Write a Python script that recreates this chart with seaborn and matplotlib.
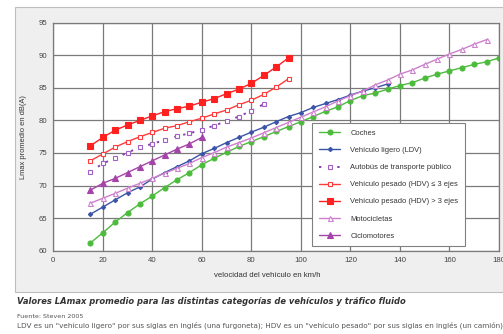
import matplotlib
matplotlib.use("Agg")
import matplotlib.pyplot as plt
import numpy as np
import pandas as pd
import seaborn as sns
from matplotlib.patches import Rectangle
from matplotlib.ticker import MultipleLocator

# Velocidades (km/h) y niveles LAmax (dB(A))
vel_coches = list(range(15, 185, 5))
coches = [61.2, 62.75, 64.4, 65.85, 67.2, 68.4, 69.7, 70.9, 72.0, 73.2, 74.2, 75.1,
          76.0, 76.75, 77.5, 78.3, 79.05, 79.8, 80.6, 81.4, 82.1, 83.05, 83.8, 84.2,
          84.8, 85.35, 85.8, 86.5, 87.1, 87.6, 88.1, 88.6, 89.0, 89.6]

vel_ldv = list(range(15, 140, 5))
ldv = [65.6, 66.7, 67.8, 68.9, 69.8, 71.0, 72.0, 72.9, 73.8, 74.9, 75.7, 76.6,
       77.4, 78.2, 78.95, 79.8, 80.6, 81.2, 82.0, 82.6, 83.2, 83.9, 84.5, 85.0, 85.6]

vel_bus = list(range(15, 90, 5))
bus = [72.1, 73.4, 74.2, 75.05, 75.9, 76.4, 77.0, 77.6, 78.0, 78.6, 79.2, 79.9,
       80.6, 81.5, 82.5]

vel_hdv = list(range(15, 100, 5))
hdv_menor3 = [73.8, 74.85, 75.9, 76.75, 77.5, 78.15, 78.8, 79.2, 79.8, 80.35, 81.0,
              81.6, 82.4, 83.1, 84.0, 85.1, 86.4]
hdv_mayor3 = [76.1, 77.4, 78.5, 79.3, 80.0, 80.7, 81.35, 81.8, 82.2, 82.8, 83.35,
              84.1, 84.8, 85.7, 86.9, 88.2, 89.6]

vel_moto = list(range(15, 180, 5))
motocicletas = [67.3, 68.05, 68.8, 69.6, 70.35, 71.1, 71.9, 72.65, 73.4, 74.3, 75.05,
                75.9, 76.6, 77.3, 78.1, 78.9, 79.7, 80.5, 81.3, 82.1, 83.0, 83.8,
                84.5, 85.45, 86.2, 87.1, 87.75, 88.6, 89.4, 90.2, 90.9, 91.7, 92.4]

vel_ciclo = list(range(15, 65, 5))
ciclomotores = [69.3, 70.35, 71.1, 72.0, 72.9, 73.8, 74.7, 75.6, 76.4, 77.4]

SERIES = [
    ("Coches", vel_coches, coches,
     dict(color="#4cbb3c", marker="o", markersize=3.6, markerfacecolor="#4cbb3c",
          markeredgecolor="#4cbb3c", linestyle="-")),
    ("Vehículo ligero (LDV)", vel_ldv, ldv,
     dict(color="#3a54a8", marker="D", markersize=2.2, markerfacecolor="#3a54a8",
          markeredgecolor="#3a54a8", linestyle="-")),
    ("Autobús de transporte público", vel_bus, bus,
     dict(color="#8a3fb0", marker="s", markersize=3.4, markerfacecolor="white",
          markeredgecolor="#a060c8", linestyle=(0, (1.2, 3.5)), linewidth=1.4)),
    ("Vehículo pesado (HDV) ≤ 3 ejes", vel_hdv, hdv_menor3,
     dict(color="#ff3b3b", marker="s", markersize=3.4, markerfacecolor="white",
          markeredgecolor="#ff3b3b", linestyle="-")),
    ("Vehículo pesado (HDV) > 3 ejes", vel_hdv, hdv_mayor3,
     dict(color="#ff2020", marker="s", markersize=3.8, markerfacecolor="#ff2020",
          markeredgecolor="#ff2020", linestyle="-")),
    ("Motocicletas", vel_moto, motocicletas,
     dict(color="#cc80cc", marker="^", markersize=3.6, markerfacecolor="white",
          markeredgecolor="#cc80cc", linestyle="-")),
    ("Ciclomotores", vel_ciclo, ciclomotores,
     dict(color="#a444aa", marker="^", markersize=3.8, markerfacecolor="#a444aa",
          markeredgecolor="#a444aa", linestyle="-")),
]

sns.set_style("white")
plt.rcParams['font.family'] = ['Liberation Sans', 'DejaVu Sans']

fig = plt.figure(figsize=(5.03, 3.34), dpi=100)
fig.patch.set_facecolor("white")

# Panel gris de fondo
panel = Rectangle((15 / 503, 1 - 292 / 334), 1.0, (292 - 7) / 334,
                  transform=fig.transFigure, facecolor="#efefef",
                  edgecolor="#bdbdbd", linewidth=0.8, zorder=-10)
fig.patches.append(panel)

ax = fig.add_axes([53.3 / 503, 1 - 250.7 / 334, (499 - 53.3) / 503, 228 / 334])
ax.set_facecolor("white")

for nombre, x, y, estilo in SERIES:
    lw = estilo.pop("linewidth", 1.0)
    sns.lineplot(x=x, y=y, ax=ax, label=nombre, linewidth=lw, markeredgewidth=0.8,
                 **estilo)

ax.set_xlim(0, 180)
ax.set_ylim(60, 95)
ax.xaxis.set_major_locator(MultipleLocator(20))
ax.xaxis.set_minor_locator(MultipleLocator(5))
ax.yaxis.set_major_locator(MultipleLocator(5))
ax.yaxis.set_minor_locator(MultipleLocator(1))
ax.grid(True, which="major", color="#7a7a7a", linewidth=0.9)
ax.set_axisbelow(True)
for s in ax.spines.values():
    s.set_color("#7a7a7a")
    s.set_linewidth(0.9)
ax.tick_params(which="major", direction="inout", length=4, width=0.7, color="#555555",
               labelsize=5.6, labelcolor="#444444", pad=2.5)
ax.tick_params(which="minor", direction="inout", length=2.5, width=0.6, color="#555555")

ax.set_xlabel("velocidad del vehículo en km/h", fontsize=5.6, color="#333333")
ax.xaxis.set_label_coords(0.48, -0.095)
ax.set_ylabel("Lmax promedio en dB(A)", fontsize=5.4, color="#333333", labelpad=8)

leg = ax.legend(loc="upper left", bbox_to_anchor=(0.581, 0.559), fontsize=5.4,
                frameon=True, fancybox=False, edgecolor="#808080", framealpha=1,
                handlelength=2.9, labelspacing=1.32, borderpad=0.85, handletextpad=1.3,
                borderaxespad=0)
leg.get_frame().set_linewidth(0.8)
for t in leg.get_texts():
    t.set_color("#333333")

fig.text(17 / 503, 1 - 302 / 334,
         "Valores LAmax promedio para las distintas categorías de vehículos y tráfico fluido",
         fontsize=6.0, fontweight="bold", fontstyle="italic", family="DejaVu Sans",
         color="#333333", va="center")
fig.text(17 / 503, 1 - 316 / 334, "Fuente: Steven 2005", fontsize=4.6,
         family="DejaVu Sans", color="#555555", va="center")
fig.text(17 / 503, 1 - 325 / 334,
         "LDV es un \"vehículo ligero\" por sus siglas en inglés (una furgoneta); "
         "HDV es un \"vehículo pesado\" por sus siglas en inglés (un camión)",
         fontsize=5.2, family="DejaVu Sans", color="#555555", va="center")

fig.savefig("out.png", dpi=100)
